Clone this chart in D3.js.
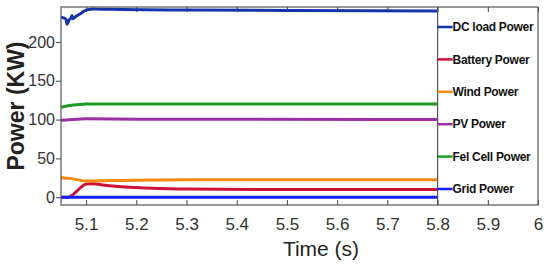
<!DOCTYPE html>
<html>
<head>
<meta charset="utf-8">
<script src="https://cdn.jsdelivr.net/npm/d3@7"></script>
<style>
  body { margin: 0; background: #fff; }
  .axis text { font-family: Arial, "Liberation Sans", sans-serif; fill: #333; }
  .axis path, .axis line { stroke: #444; }
</style>
</head>
<body>
<svg id="chart"></svg>
<script>
// series data (time in s, power in kW)
const seriesNames = ['DC load Power', 'Battery Power', 'Wind Power', 'PV Power', 'Fel Cell Power', 'Grid Power'];
const seriesColors = ['#1632a8', '#cc1238', '#ff8a10', '#9a2fa6', '#1b9b22', '#1020ff'];

const dcLoad = [[5.05, 232], [5.055, 231], [5.06, 229], [5.062, 223], [5.066, 228], [5.07, 231], [5.072, 234], [5.074, 230],
  [5.08, 233], [5.09, 237], [5.1, 241], [5.115, 242.5], [5.15, 242], [5.3, 241], [5.5, 240.5], [5.8, 240]];
const battery = [[5.05, 0], [5.065, 0], [5.075, 4], [5.09, 13], [5.1, 17], [5.115, 17.5], [5.13, 16], [5.17, 13.5],
  [5.22, 12], [5.3, 10.5], [5.45, 10], [5.8, 10]];
const wind = [[5.05, 25.5], [5.07, 24], [5.1, 21], [5.15, 21.5], [5.3, 22.5], [5.8, 22.5]];
const pv = [[5.05, 99], [5.08, 100.5], [5.1, 101], [5.2, 100.5], [5.8, 100]];
const fuelCell = [[5.05, 116], [5.08, 119], [5.1, 120], [5.2, 120], [5.8, 120]];
const grid = [[5.05, 0], [5.8, 0]];

const xTicks = [5.1, 5.2, 5.3, 5.4, 5.5, 5.6, 5.7, 5.8, 5.9, 6];
const yTicks = [0, 50, 100, 150, 200];

const allSeries = [dcLoad, battery, wind, pv, fuelCell, grid];

const width = 550, height = 268;
const margin = {top: 7, right: 12, bottom: 63, left: 61};
const innerW = width - margin.left - margin.right;
const innerH = height - margin.top - margin.bottom;

const svg = d3.select('#chart').attr('width', width).attr('height', height);
const chart = svg.append('g').attr('transform', `translate(${margin.left},${margin.top})`);

const xScale = d3.scaleLinear().domain([5.05, 6]).range([0, innerW]);
const yScale = d3.scaleLinear().domain([-10, 245]).range([innerH, 0]);

// axes
const xAxisG = chart.append('g').attr('class', 'axis')
  .attr('transform', `translate(0,${innerH})`)
  .call(d3.axisBottom(xScale).tickValues(xTicks).tickSize(-5).tickSizeOuter(0).tickPadding(13).tickFormat(d3.format('')));
xAxisG.select('.domain').remove();
xAxisG.selectAll('text').style('font-size', '17px');

const topAxisG = chart.append('g').attr('class', 'axis')
  .call(d3.axisTop(xScale).tickValues(xTicks).tickSize(-5).tickSizeOuter(0).tickFormat(''));
topAxisG.select('.domain').remove();

const yAxisG = chart.append('g').attr('class', 'axis')
  .call(d3.axisLeft(yScale).tickValues(yTicks).tickSize(5).tickSizeOuter(0).tickPadding(1));
yAxisG.select('.domain').remove();
yAxisG.selectAll('text').style('font-size', '16px');

// lines
const line = d3.line().x(d => xScale(d[0])).y(d => yScale(d[1])).curve(d3.curveMonotoneX);
chart.selectAll('.series')
  .data(allSeries)
  .enter()
  .append('path')
  .attr('class', 'series')
  .attr('fill', 'none')
  .attr('stroke', (d, i) => seriesColors[i])
  .attr('stroke-width', 3)
  .attr('d', line);

// frame and legend box
chart.append('rect')
  .attr('width', innerW).attr('height', innerH)
  .attr('fill', 'none').attr('stroke', '#555').attr('stroke-width', 1.2);
const legendX = xScale(5.8);
chart.append('line')
  .attr('x1', legendX).attr('x2', legendX).attr('y1', 0).attr('y2', innerH)
  .attr('stroke', '#555').attr('stroke-width', 1.2);

const legendY = d3.scalePoint().domain(seriesNames).range([20, 182]);
const legend = chart.selectAll('.legend')
  .data(seriesNames)
  .enter()
  .append('g')
  .attr('class', 'legend')
  .attr('transform', d => `translate(${legendX},${legendY(d)})`);
legend.append('line')
  .attr('x1', 0).attr('x2', 15)
  .attr('stroke', (d, i) => seriesColors[i]).attr('stroke-width', 2.5);
legend.append('text')
  .attr('x', 15).attr('dy', '0.35em')
  .style('font-family', 'Arial, "Liberation Sans", sans-serif')
  .style('font-size', '12px').style('font-weight', 'bold')
  .style('letter-spacing', '-0.3px')
  .attr('fill', '#111')
  .text(d => d);

// axis titles
svg.append('text')
  .attr('transform', `translate(24,${margin.top + innerH / 2}) rotate(-90)`)
  .attr('text-anchor', 'middle')
  .style('font-family', 'Arial, "Liberation Sans", sans-serif')
  .style('font-size', '23px').style('font-weight', 'bold')
  .attr('fill', '#222')
  .text('Power (KW)');

svg.append('text')
  .attr('x', 321).attr('y', 256)
  .attr('text-anchor', 'middle')
  .style('font-family', 'Arial, "Liberation Sans", sans-serif')
  .style('font-size', '21px')
  .attr('fill', '#222')
  .text('Time (s)');
</script>
</body>
</html>
